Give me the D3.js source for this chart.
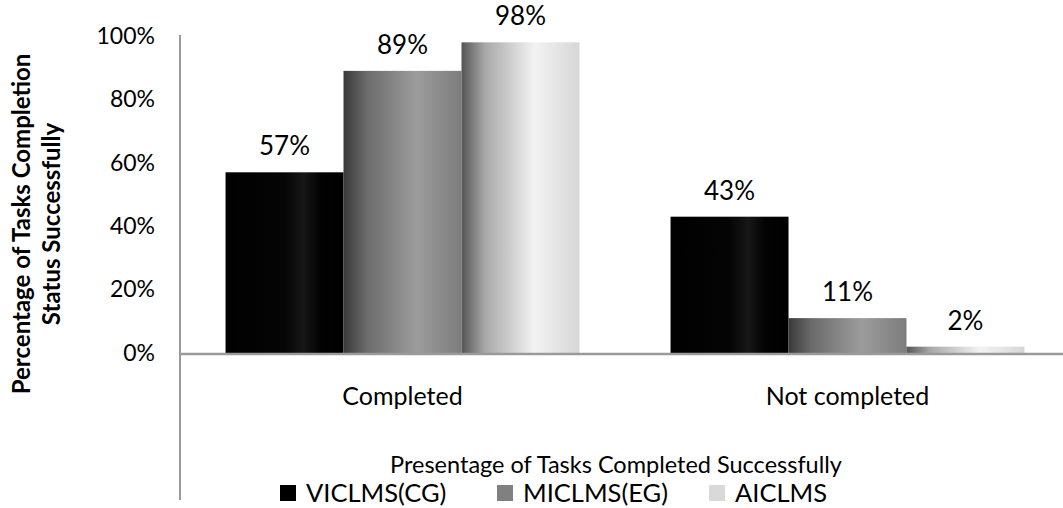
<!DOCTYPE html>
<html>
<head>
<meta charset="utf-8">
<script src="https://cdn.jsdelivr.net/npm/d3@7"></script>
<style>
  html, body { margin: 0; padding: 0; background: #fff; }
  svg { display: block; font-family: Lato, "Open Sans", sans-serif; }
</style>
</head>
<body>
<svg id="chart" width="1063" height="508"></svg>
<script>
// Task completion status per learning management system
const categories = ["Completed", "Not completed"];
const seriesNames = ["VICLMS(CG)", "MICLMS(EG)", "AICLMS"];
const viclms = [57, 43];
const miclms = [89, 11];
const aiclms = [98, 2];
const yTicks = [0, 20, 40, 60, 80, 100];
const xTitle = "Presentage of Tasks Completed Successfully";
const yTitleLines = ["Percentage of Tasks Completion", "Status Successfully"];

const seriesValues = [viclms, miclms, aiclms];
const legendColors = ["#000000", "#808080", "#d9d9d9"];

// horizontal shading for each series: [offset, colour]
const shading = [
  [[0, "#000"], [0.5, "#050505"], [0.66, "#171717"], [0.8, "#030303"], [1, "#000"]],
  [[0, "#3a3a3a"], [0.2, "#6c6c6c"], [0.62, "#9c9c9c"], [1, "#7c7c7c"]],
  [[0, "#555"], [0.2, "#a8a8a8"], [0.62, "#f3f3f3"], [1, "#d6d6d6"]]
];

const svg = d3.select("#chart");
const plotLeft = 180, plotRight = 1070, plotTop = 36, plotBottom = 353;

const x0 = d3.scaleBand().domain(categories).range([plotLeft, plotRight]);
const x1 = d3.scaleBand().domain(d3.range(seriesNames.length))
  .range([0, x0.bandwidth()]).paddingOuter(0.386);
const y = d3.scaleLinear().domain([0, 100]).range([plotBottom, plotTop]);

const defs = svg.append("defs");
shading.forEach((stops, i) => {
  const g = defs.append("linearGradient").attr("id", "shade" + i)
    .attr("x1", "0%").attr("x2", "100%").attr("y1", "0%").attr("y2", "0%");
  stops.forEach(s => g.append("stop").attr("offset", s[0]).attr("stop-color", s[1]));
});

// bars
const groups = svg.append("g").selectAll("g")
  .data(categories).join("g")
  .attr("transform", c => `translate(${x0(c)},0)`);

groups.selectAll("rect")
  .data((c, ci) => seriesValues.map((vals, si) => ({ si, v: vals[ci] })))
  .join("rect")
  .attr("x", d => x1(d.si))
  .attr("width", x1.bandwidth())
  .attr("y", d => y(d.v))
  .attr("height", d => y(0) - y(d.v))
  .attr("fill", d => `url(#shade${d.si})`);

// value labels
groups.selectAll("text")
  .data((c, ci) => seriesValues.map((vals, si) => ({ si, v: vals[ci] })))
  .join("text")
  .attr("x", d => x1(d.si) + x1.bandwidth() / 2)
  .attr("y", d => y(d.v) - 17)
  .attr("text-anchor", "middle")
  .attr("font-size", 26)
  .attr("fill", "#000")
  .text(d => d.v + "%");

// axes
const yAxis = d3.axisLeft(y).tickValues(yTicks).tickSize(0).tickPadding(25)
  .tickFormat(d => d + "%");
const gy = svg.append("g").attr("transform", `translate(${plotLeft},0)`).call(yAxis);
gy.select(".domain").remove();
gy.selectAll("text").attr("font-size", 23).attr("fill", "#000")
  .attr("font-family", "Lato, 'Open Sans', sans-serif");

svg.append("line")
  .attr("x1", plotLeft).attr("x2", plotLeft).attr("y1", plotTop - 1).attr("y2", 500)
  .attr("stroke", "#9a9a9a").attr("stroke-width", 2);

const xAxis = d3.axisBottom(x0).tickSize(0).tickPadding(34);
const gx = svg.append("g").attr("transform", `translate(0,${plotBottom})`).call(xAxis);
gx.select(".domain").remove();
gx.selectAll("text").attr("font-size", 25).attr("fill", "#000")
  .attr("font-family", "Lato, 'Open Sans', sans-serif");

svg.append("line")
  .attr("x1", plotLeft).attr("x2", 1063).attr("y1", plotBottom + 1).attr("y2", plotBottom + 1)
  .attr("stroke", "#9a9a9a").attr("stroke-width", 2.5);

// axis titles
svg.append("text")
  .attr("x", 616).attr("y", 473)
  .attr("text-anchor", "middle").attr("font-size", 23.5).attr("fill", "#000")
  .text(xTitle);

const yt = svg.append("text")
  .attr("transform", "translate(0,224) rotate(-90)")
  .attr("text-anchor", "middle").attr("font-size", 24)
  .attr("font-weight", "bold").attr("fill", "#000");
yTitleLines.forEach((line, i) => {
  yt.append("tspan").attr("x", 0).attr("y", 30 + i * 30).text(line);
});

// legend
const legendX = [280, 497, 709];
const legend = svg.append("g").selectAll("g")
  .data(seriesNames).join("g")
  .attr("transform", (d, i) => `translate(${legendX[i]},485)`);
legend.append("rect").attr("width", 16).attr("height", 16)
  .attr("fill", (d, i) => legendColors[i]);
legend.append("text").attr("x", 26).attr("y", 17)
  .attr("font-size", 25.5).attr("fill", "#000").text(d => d);
</script>
</body>
</html>
